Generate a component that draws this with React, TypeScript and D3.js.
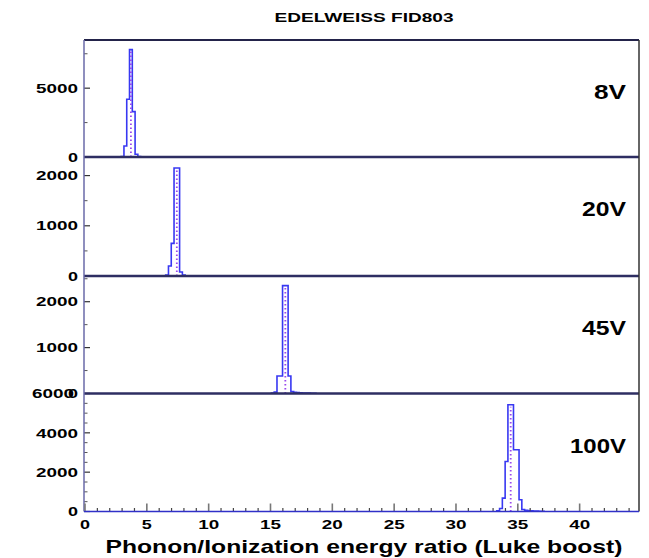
import React from "react";
import * as d3 from "d3";

// all histograms share 200 bins over 0-45
const binWidth = 0.225;

const panelLabels = ["8V", "20V", "45V", "100V"];
const panelMax = [8500, 2370, 2560, 6000];
const majorTicks = [[0, 5000], [0, 1000, 2000], [0, 1000, 2000], [0, 2000, 4000, 6000]];
const minorStep = [2500, 500, 500, 500];

// first bin index and counts for each voltage
const firstBin = [13, 29, 67, 148];
const counts8V = [30, 800, 4200, 7800, 3300, 200, 40, 10];
const counts20V = [20, 200, 650, 2150, 2150, 80, 20];
const counts45V = [10, 30, 380, 380, 2350, 2350, 380, 40, 25, 20, 15, 12, 10, 8, 6, 5];
const counts100V = [40, 150, 680, 2545, 5430, 5430, 3140, 3140, 600, 100, 60, 45, 35, 25, 20, 15, 10];
const allCounts = [counts8V, counts20V, counts45V, counts100V];

const xTicks = [0, 5, 10, 15, 20, 25, 30, 35, 40];

export default function App() {
  const W = 649, H = 558;
  const left = 84, right = 639;
  const edges = [40, 157, 276, 393.5, 511.5];

  const x = d3.scaleLinear().domain([0, 44.8]).range([85, right]);
  const bold = "Arial, 'Liberation Sans', sans-serif";

  const panels = allCounts.map((cnt, p) => {
    const y = d3.scaleLinear().domain([0, panelMax[p]]).range([edges[p + 1], edges[p]]);
    const lo = firstBin[p] * binWidth;
    const pts: [number, number][] = [[lo, 0]];
    cnt.forEach((c, i) => pts.push([lo + i * binWidth, c]));
    pts.push([lo + cnt.length * binWidth, 0]);
    const line = d3.line<[number, number]>()
      .x(d => x(d[0]))
      .y(d => y(d[1]))
      .curve(d3.curveStepAfter);

    // center of the tallest bins for the dotted line
    const mx = d3.max(cnt) as number;
    const idx = cnt.map((c, i) => (c === mx ? i : -1)).filter(i => i >= 0);
    const cx = lo + ((idx[0] + idx[idx.length - 1]) / 2 + 0.5) * binWidth;

    const minors = d3.range(minorStep[p], panelMax[p], minorStep[p]).filter(v => !majorTicks[p].includes(v));

    return (
      <g key={p}>
        <path d={line(pts) || ""} fill="none" stroke="#3838f2" strokeWidth={1.6} />
        <line x1={x(cx)} x2={x(cx)} y1={y(0)} y2={y(mx) + 2}
          stroke="#9a48ee" strokeWidth={1.8} strokeDasharray="1.5,2.5" />
        {minors.map(v => (
          <line key={"m" + v} x1={left} x2={left + 3.5} y1={y(v)} y2={y(v)} stroke="#555" strokeWidth={1} />
        ))}
        {majorTicks[p].map(v => (
          <g key={"t" + v}>
            <line x1={left} x2={left + 6} y1={y(v)} y2={y(v)} stroke="#333" strokeWidth={1.2} />
            <text x={p === 3 && v === 6000 ? 74 : 78} y={y(v)} dy="0.36em" textAnchor="end" fontFamily={bold}
              fontWeight="bold" fontSize={13} textLength={v === 0 ? 10 : 42}
              lengthAdjust="spacingAndGlyphs">{v}</text>
          </g>
        ))}
        <text x={626} y={edges[p] + 59} textAnchor="end" fontFamily={bold} fontWeight="bold" fontSize={19.5}
          textLength={panelLabels[p].length === 2 ? 32 : panelLabels[p].length === 3 ? 44 : 56}
          lengthAdjust="spacingAndGlyphs">{panelLabels[p]}</text>
      </g>
    );
  });

  const xMinor = d3.range(1, 45, 1).filter(v => v % 5 !== 0);
  const base = edges[4];

  return (
    <svg width={W} height={H} style={{ position: "absolute", left: 0, top: 0, background: "#fff" }}>
      <text x={364} y={22} textAnchor="middle" fontFamily={bold} fontWeight="bold" fontSize={13.5}
        textLength={179} lengthAdjust="spacingAndGlyphs">EDELWEISS FID803</text>
      {panels}
      {/* frame and panel separators */}
      <line x1={left} x2={right} y1={edges[0]} y2={edges[0]} stroke="#23234a" strokeWidth={2} />
      {edges.slice(1, 4).map(e => (
        <line key={e} x1={left} x2={right} y1={e} y2={e} stroke="#2e2e62" strokeWidth={2.4} />
      ))}
      <line x1={right} x2={right} y1={edges[0]} y2={base} stroke="#333" strokeWidth={1.5} />
      <line x1={left} x2={left} y1={edges[0]} y2={base} stroke="#6a6aa8" strokeWidth={1.5} />
      {xMinor.map(v => (
        <line key={"xm" + v} x1={x(v)} x2={x(v)} y1={base} y2={base - 3.5} stroke="#444" strokeWidth={1.2} />
      ))}
      {d3.range(0, 45, 5).map(v => (
        <line key={"xM" + v} x1={x(v)} x2={x(v)} y1={base} y2={base - 8} stroke="#777" strokeWidth={1.6} />
      ))}
      <line x1={left} x2={right} y1={base} y2={base} stroke="#3030c8" strokeWidth={1.6} />
      {xTicks.map(v => (
        <text key={"xl" + v} x={x(v)} y={529} textAnchor="middle" fontFamily={bold} fontWeight="bold"
          fontSize={12.5} textLength={v < 10 ? 10 : 21} lengthAdjust="spacingAndGlyphs">{v}</text>
      ))}
      <text x={364} y={553} textAnchor="middle" fontFamily={bold} fontWeight="bold" fontSize={19}
        textLength={517} lengthAdjust="spacingAndGlyphs">Phonon/Ionization energy ratio (Luke boost)</text>
    </svg>
  );
}
